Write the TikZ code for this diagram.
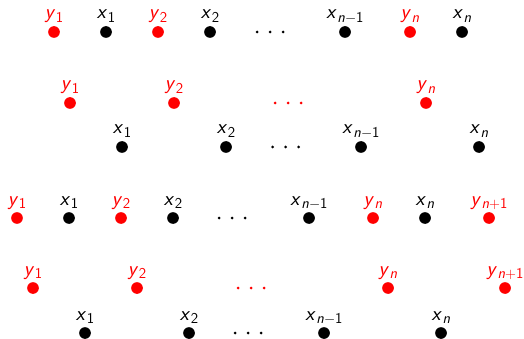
\documentclass[tikz,border=0pt]{standalone}
\usepackage{fontspec}
\newcommand\lv[2]{\textit{#1}\kern0.03em\raisebox{-0.15em}{\fontsize{15}{17}\selectfont #2}}
\newcommand\mmin{$-$}
\newcommand\mplus{$+$}
\tikzset{
  dotp/.style={circle, inner sep=0pt, minimum size=11.7pt, draw=none},
  lbl/.style={anchor=base, inner sep=0pt, font=\fontsize{20.5}{24}\selectfont\sffamily},
  smalldot/.style={circle, inner sep=0pt, minimum size=3pt, draw=none}
}
\newcommand\dotlab[5]{%
  \node[dotp, fill=#4] (#1) at (#2,#3) {};
  \node[lbl, text=#4] (#1l) at ([yshift=13pt]#1.center) {#5};}
\newcommand\hdots[4]{%
  \node[smalldot, fill=#4] (#1a) at (#2-13,#3) {};
  \node[smalldot, fill=#4] (#1b) at (#2,#3) {};
  \node[smalldot, fill=#4] (#1c) at (#2+13,#3) {};}
\begin{document}
\begin{tikzpicture}[x=1pt, y=-1pt]
\useasboundingbox (0,0) rectangle (524,339);
% row 1
\dotlab{ay1}{54}{32}{red}{\lv{y}{1}}
\dotlab{ax1}{106}{32}{black}{\lv{x}{1}}
\dotlab{ay2}{158}{32}{red}{\lv{y}{2}}
\dotlab{ax2}{210}{32}{black}{\lv{x}{2}}
\hdots{ad}{270}{32}{black}
\dotlab{axm}{345}{32}{black}{\lv{x}{\textit{n}\mmin1}}
\dotlab{ayn}{410}{32}{red}{\lv{y}{\textit{n}}}
\dotlab{axn}{462}{32}{black}{\lv{x}{\textit{n}}}
% row 2
\dotlab{by1}{70}{103}{red}{\lv{y}{1}}
\dotlab{by2}{174}{103}{red}{\lv{y}{2}}
\hdots{bd}{288}{103}{red}
\dotlab{byn}{426}{103}{red}{\lv{y}{\textit{n}}}
% row 3
\dotlab{cx1}{122}{147}{black}{\lv{x}{1}}
\dotlab{cx2}{226}{147}{black}{\lv{x}{2}}
\hdots{cd}{285.5}{147}{black}
\dotlab{cxm}{361}{147}{black}{\lv{x}{\textit{n}\mmin1}}
\dotlab{cxn}{479}{147}{black}{\lv{x}{\textit{n}}}
% row 4
\dotlab{dy1}{17}{218}{red}{\lv{y}{1}}
\dotlab{dx1}{69}{218}{black}{\lv{x}{1}}
\dotlab{dy2}{121}{218}{red}{\lv{y}{2}}
\dotlab{dx2}{173}{218}{black}{\lv{x}{2}}
\hdots{dd}{232}{218}{black}
\dotlab{dxm}{309}{218}{black}{\lv{x}{\textit{n}\mmin1}}
\dotlab{dyn}{373}{218}{red}{\lv{y}{\textit{n}}}
\dotlab{dxn}{425}{218}{black}{\lv{x}{\textit{n}}}
\dotlab{dyp}{489}{218}{red}{\lv{y}{\textit{n}\mplus1}}
% row 5
\dotlab{ey1}{33}{288}{red}{\lv{y}{1}}
\dotlab{ey2}{137}{288}{red}{\lv{y}{2}}
\hdots{ed}{251}{288}{red}
\dotlab{eyn}{388}{288}{red}{\lv{y}{\textit{n}}}
\dotlab{eyp}{505}{288}{red}{\lv{y}{\textit{n}\mplus1}}
% row 6
\dotlab{fx1}{85}{333}{black}{\lv{x}{1}}
\dotlab{fx2}{189}{333}{black}{\lv{x}{2}}
\hdots{fd}{248}{333}{black}
\dotlab{fxm}{324}{333}{black}{\lv{x}{\textit{n}\mmin1}}
\dotlab{fxn}{441}{333}{black}{\lv{x}{\textit{n}}}
\end{tikzpicture}
\end{document}
